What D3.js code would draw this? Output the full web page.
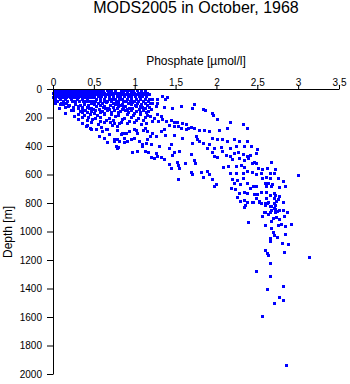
<!DOCTYPE html>
<html>
<head>
<meta charset="utf-8">
<script src="https://cdn.jsdelivr.net/npm/d3@7/dist/d3.min.js"></script>
<style>
  html, body { margin: 0; padding: 0; background: #fff; }
  svg { display: block; font-family: "Liberation Sans", Arial, Helvetica, sans-serif; }
</style>
</head>
<body>
<script>
// ---- data: [phosphate (µmol/l), depth (m)] ----
const title = "MODS2005 in October, 1968";
const xLabel = "Phosphate [\u00b5mol/l]";
const yLabel = "Depth [m]";
const xTicks = [0, 0.5, 1, 1.5, 2, 2.5, 3, 3.5];
const yTicks = [0, 200, 400, 600, 800, 1000, 1200, 1400, 1600, 1800, 2000];

const mixedLayer = [
  [0.01,0],[0.03,0],[0.06,0],[0.10,0],[0.12,0],[0.16,0],[0.19,0],[0.21,0],[0.25,0],[0.28,0],[0.30,0],[0.34,0],[0.37,0],[0.39,0],[0.43,0],
  [0.02,10],[0.05,10],[0.07,10],[0.11,10],[0.14,10],[0.18,10],[0.20,10],[0.23,10],[0.27,10],[0.29,10],[0.32,10],[0.36,10],[0.38,10],[0.41,10],[0.45,10],
  [0.00,20],[0.04,20],[0.08,20],[0.10,20],[0.13,20],[0.17,20],[0.19,20],[0.24,20],[0.26,20],[0.31,20],[0.33,20],[0.35,20],[0.40,20],[0.42,20],[0.46,20],[0.50,20],
  [0.01,30],[0.04,30],[0.07,30],[0.12,30],[0.15,30],[0.18,30],[0.22,30],[0.25,30],[0.28,30],[0.31,30],[0.34,30],[0.37,30],[0.40,30],[0.44,30],[0.48,30],
  [0.02,40],[0.06,40],[0.09,40],[0.14,40],[0.20,40],[0.26,40],[0.33,40],[0.39,40],[0.43,40],
  [0.00,50],[0.03,50],[0.07,50],[0.10,50],[0.13,50],[0.16,50],[0.21,50],[0.24,50],[0.27,50],[0.30,50],[0.35,50],[0.38,50],[0.41,50],[0.45,50],[0.49,50],
  [0.03,60],[0.09,60],[0.15,60],[0.22,60],[0.29,60],[0.36,60],[0.42,60],
  [0.01,75],[0.05,75],[0.12,75],[0.17,75],[0.23,75],[0.27,75],[0.32,75],[0.37,75],[0.40,75],[0.44,75],[0.48,75],
  [0.03,88],[0.08,100],[0.07,126],[0.15,120],[0.15,161],[0.22,140],[0.26,183],[0.31,204]
];

const upperBand = [
  [0.49,0],[0.56,0],[0.61,0],[0.66,0],[0.71,0],[0.87,0],[0.94,0],[1.03,0],
  [0.53,10],[0.60,10],[0.68,10],[0.76,10],[0.83,10],[0.91,10],[0.98,10],[1.08,10],[1.13,10],
  [0.54,20],[0.58,20],[0.63,20],[0.67,20],[0.72,20],[0.77,20],[0.81,20],[0.86,20],[0.90,20],[0.95,20],[0.99,20],[1.04,20],[1.10,20],[1.15,20],
  [0.52,30],[0.57,30],[0.61,30],[0.65,30],[0.70,30],[0.74,30],[0.79,30],[0.84,30],[0.88,30],[0.93,30],[0.97,30],[1.01,30],[1.06,30],[1.12,30],[1.17,30],
  [0.50,45],[0.55,45],[0.59,45],[0.64,45],[0.69,45],[0.73,45],[0.78,45],[0.82,45],[0.87,45],[0.92,45],[0.96,45],[1.00,45],[1.05,45],[1.09,45],[1.14,45],[1.40,49],
  [0.53,60],[0.58,60],[0.62,60],[0.68,60],[0.72,60],[0.76,60],[0.81,60],[0.85,60],[0.90,60],[0.95,60],[1.02,60],[1.07,60],[1.12,60],[1.18,60],
  [0.52,75],[0.57,75],[0.63,75],[0.66,75],[0.71,75],[0.77,75],[0.80,75],[0.86,75],[0.89,75],[0.94,75],[0.99,75],[1.04,75],[1.10,75],[1.16,75],
  [0.10,90],[0.16,92],[0.47,88],[0.55,94],[0.60,90],[0.65,86],[0.74,93],[0.79,89],[0.84,95],[0.92,90],[0.97,87],[1.03,92],[1.08,96],[1.13,89],[1.19,91],
  [0.12,100],[0.20,104],[0.27,98],[0.33,106],[0.38,101],[0.43,108],[0.50,99],[0.58,103],[0.63,110],[0.70,102],[0.76,97],[0.83,105],[0.88,109],[0.95,100],[1.00,104],[1.06,111],[1.15,102],
  [0.18,115],[0.25,119],[0.31,113],[0.36,121],[0.41,116],[0.46,123],[0.53,114],[0.61,118],[0.67,124],[0.73,117],[0.80,112],[0.86,120],[0.93,125],[1.02,115],[1.09,119],[1.17,122],
  [0.30,128],[0.35,132],[0.44,126],[0.49,135],[0.56,130],[0.64,127],[0.69,134],[0.78,129],[0.85,136],[0.91,131],[0.97,127],[1.05,133],[1.12,129],
  [0.24,140],[0.33,144],[0.39,139],[0.47,146],[0.52,141],[0.60,148],[0.66,142],[0.75,139],[0.82,147],[0.88,143],[0.95,138],[1.01,145],[1.10,141],[1.16,149],
  [0.36,155],[0.42,151],[0.50,158],[0.57,153],[0.63,160],[0.71,154],[0.79,157],[0.92,152],[0.99,159],[1.07,155],[1.14,151]
];

const nutricline = [
  [0.30,168],[0.38,174],[0.45,166],[0.54,176],[0.62,171],[0.71,165],[0.80,178],[0.90,169],[0.98,173],[1.06,167],[1.15,176],
  [0.36,192],[0.43,186],[0.51,195],[0.58,188],[0.68,197],[0.76,185],[0.87,193],[0.95,189],[1.04,198],[1.12,187],
  [0.41,212],[0.48,206],[0.57,216],[0.65,208],[0.74,214],[0.84,205],[0.93,218],[1.01,209],[1.10,213],
  [0.46,228],[0.55,236],[0.63,226],[0.81,233],[0.90,229],[1.08,237],
  [0.36,232],[0.40,253],[0.45,267],[0.53,274],[0.59,260],[0.65,274],[0.70,225],[0.75,232],[0.78,281],[0.83,309],
  [0.88,302],[0.66,365],[0.75,358],[0.78,344],[0.80,400],[0.87,365],[0.91,358],[0.97,435],[1.03,428],[1.09,393],
  [1.10,281],[1.01,281],[0.99,225],[1.14,232],[1.12,428],[1.16,432],
  [0.42,246],[0.47,274],[0.60,288],[0.66,274],[0.72,246],[0.78,253],[0.83,225],[0.89,302],[0.99,274],[1.03,302],
  [1.12,267],[1.15,288],[0.56,323],[0.62,337],[0.69,309],[0.75,344],[0.81,358],[0.85,302],[0.87,337],[0.91,358],
  [0.96,344],[0.99,337],[1.05,358],[1.09,379],[1.14,372],[0.77,393],[0.66,365],[1.15,344],[0.78,407],[0.93,288]
];

const thermocline = [
  [1.21,63],[1.27,63],[1.34,42],[1.37,63],[1.21,91],[1.27,91],[1.26,112],[1.36,119],[1.20,133],[1.46,126],
  [1.57,112],[1.70,126],[1.72,98],[1.83,133],[1.86,140],[1.94,161],[1.96,175],[2.01,204],[2.16,225],[2.13,267],
  [2.32,239],[2.38,267],[1.19,182],[1.24,197],[1.27,168],[1.32,182],[1.34,204],[1.29,218],[1.21,218],[1.38,218],
  [1.45,211],[1.48,225],[1.52,225],[1.58,232],[1.63,239],[1.42,246],[1.48,253],[1.53,253],[1.57,267],[1.63,274],
  [1.65,267],[1.69,260],[1.73,267],[1.79,281],[1.85,281],[1.91,288],[2.03,281],[1.36,274],[1.32,288],[1.21,302],
  [1.19,323],[1.26,323],[1.37,316],[1.48,316],[1.58,337],[1.75,323],[1.76,344],[1.79,358],[1.83,372],[1.95,337],
  [2.01,344],[2.07,344],[2.13,358],[2.22,344],[2.28,358],[2.37,358],[2.34,393],[2.24,393],[2.16,407],[2.06,400],
  [1.97,407],[1.91,379],[1.88,407],[1.70,372],[1.42,407],[1.30,393],[1.20,379],[1.45,379],
  [1.20,470],[1.24,477],[1.27,463],[1.32,470],[1.36,484],[1.26,442],[1.46,456],[1.48,435],[1.54,428],[1.69,449],
  [1.73,491],[1.74,512],[1.61,512],[1.52,505],[1.53,526],[1.42,519],[1.45,547],[1.54,547],[1.69,575],[1.70,590],
  [1.81,575],[1.89,568],[1.91,590],[1.83,611],[1.53,625],[1.94,625],[2.00,660],[1.97,674],[1.94,435],[1.97,463],
  [2.01,470],[2.07,428],[2.12,456],[2.17,463],[2.22,442],[2.27,435],[2.32,449],[2.37,463],[2.19,484],[2.28,477],
  [2.34,491],[2.39,477],[2.08,540],[2.14,533],[2.24,533],[2.30,526],[2.34,540],[2.16,582],[2.24,582],[2.32,582],
  [2.37,568],[2.19,625],[2.25,632],[2.33,618],[2.22,653],[2.29,660],[2.37,653],[2.18,688],[2.23,695],[2.28,723],
  [2.34,716],[2.38,723],[2.25,751],[2.34,821],[2.37,786],[2.42,393],[2.50,414]
];

const deepWater = [
  [2.49,442],[2.41,456],[2.46,505],[2.43,512],[2.49,512],[2.67,505],[2.51,547],[2.56,554],[2.62,547],[2.72,554],
  [2.43,575],[2.49,590],[2.55,582],[2.65,582],[2.70,582],[3.00,597],[2.56,618],[2.61,611],[2.65,618],[2.75,618],
  [2.81,639],[2.59,653],[2.63,653],[2.68,660],[2.45,674],[2.48,674],[2.61,674],[2.67,674],[2.76,681],[2.84,674],
  [2.41,688],[2.55,716],[2.61,716],[2.71,723],[2.46,730],[2.50,730],[2.65,737],[2.72,737],[2.77,744],[2.49,758],
  [2.61,758],[2.71,758],[2.75,765],[2.44,786],[2.52,786],[2.59,793],[2.63,786],[2.71,793],[2.82,786],[2.67,814],
  [2.71,828],[2.77,842],[2.60,856],[2.65,856],[2.72,856],[2.86,856],
  [2.29,779],[2.34,772],[2.35,807],[2.45,786],[2.52,779],[2.55,793],[2.59,807],[2.62,793],[2.66,814],[2.72,807],
  [2.73,779],[2.82,786],[2.58,856],[2.63,870],[2.56,884],[2.67,842],[2.72,835],[2.74,849],[2.82,842],[2.86,856],
  [2.69,898],[2.73,891],[2.77,905],[2.83,884],[2.67,919],[2.39,926],[2.59,947],[2.75,947],[2.79,940],[2.84,954],
  [2.91,940],[2.67,968],[2.69,997],[2.70,1018],[2.74,1032],[2.84,1011],[2.66,1039],[2.66,1060],[2.80,1074],[2.88,1081],
  [2.59,1123],[2.62,1144],[2.63,1158],[2.83,1137],[3.13,1172],[2.66,1214],[2.48,1270],[2.66,1305],[2.82,1376],[2.62,1397],
  [2.77,1453],[2.82,1474],[2.70,1495],[2.56,1586],[2.85,1930]
];

// ---- chart ----
const W = 350, H = 384;
const font = '"Liberation Sans", Arial, Helvetica, sans-serif';
const svg = d3.select("body").append("svg").attr("width", W).attr("height", H);

const x = d3.scaleLinear().domain([0, 3.5]).range([53, 339]);
const y = d3.scaleLinear().domain([0, 2000]).range([90, 375]);

// points
const all = [].concat(mixedLayer, upperBand, nutricline, thermocline, deepWater);
svg.append("g")
  .attr("shape-rendering", "crispEdges")
  .selectAll("rect").data(all).join("rect")
  .attr("x", d => x(d[0]) - 1)
  .attr("y", d => y(d[1]) - 1)
  .attr("width", 3).attr("height", 3)
  .attr("fill", "#0000ff");

// top axis
const xAxis = svg.append("g").attr("transform", "translate(0,89)")
  .call(d3.axisTop(x).tickValues(xTicks).tickFormat(d3.format("~g")).tickSize(4).tickSizeOuter(0));
xAxis.selectAll("text").attr("y", -3).attr("dy", 0);

// left axis
const yAxis = svg.append("g")
  .call(d3.axisLeft(y.copy().range([89, 374])).tickValues(yTicks).tickFormat(d3.format("d")).tickSize(6).tickPadding(5).tickSizeOuter(0));
yAxis.attr("transform", "translate(53,0)");

svg.selectAll(".tick text").attr("font-size", 10).attr("font-family", font).attr("fill", "#000");
svg.selectAll(".domain, .tick line").attr("stroke", "#000");

// titles
svg.append("text").attr("x", 196).attr("y", 13).attr("text-anchor", "middle")
  .attr("font-size", 16).attr("font-family", font).text(title);
svg.append("text").attr("x", 196).attr("y", 65).attr("text-anchor", "middle")
  .attr("font-size", 12).attr("font-family", font).text(xLabel);
svg.append("text").attr("transform", "translate(12,232) rotate(-90)").attr("text-anchor", "middle")
  .attr("font-size", 12).attr("font-family", font).text(yLabel);
</script>
</body>
</html>
